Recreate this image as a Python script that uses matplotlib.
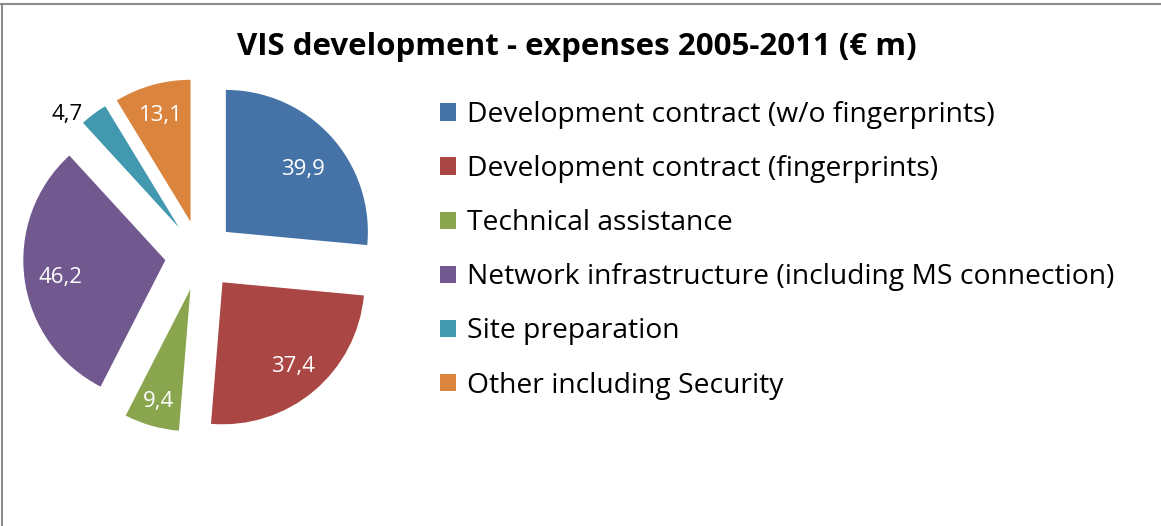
import matplotlib
matplotlib.use("Agg")
import numpy as np
import matplotlib.pyplot as plt
from matplotlib.lines import Line2D

# ----------------------
# data
# ----------------------
categories = [
    "Development contract (w/o fingerprints)",
    "Development contract (fingerprints)",
    "Technical assistance",
    "Network infrastructure (including MS connection)",
    "Site preparation",
    "Other including Security",
]
values = [39.9, 37.4, 9.4, 46.2, 4.7, 13.1]
value_labels = ["39,9", "37,4", "9,4", "46,2", "4,7", "13,1"]

colors = ["#4572A7", "#AA4643", "#89A54E", "#71588F", "#4198AF", "#DB843D"]
label_colors = ["white", "white", "white", "white", "black", "white"]
label_radius = [0.70, 0.77, 0.82, 0.75, 1.12, 0.78]
label_turn = [-3.5, 0, 0, 1.7, 8, 0]  # degrees, small nudges of label angle

plt.rcParams["font.family"] = ["Open Sans", "DejaVu Sans"]

W, H = 1161, 526
fig = plt.figure(figsize=(W / 100, H / 100), dpi=100)
ax = fig.add_axes([0, 0, 1, 1])

R = 142
cx, cy = 200, H - 255.5
# explode is in data units here (pixels)
wedges, _ = ax.pie(values, colors=colors, startangle=90, counterclock=False,
                   explode=[35] * len(values), radius=R, center=(cx, cy),
                   wedgeprops=dict(linewidth=0), frame=True)

# data labels
for w, lab, c, f, t in zip(wedges, value_labels, label_colors, label_radius, label_turn):
    ang = np.deg2rad((w.theta1 + w.theta2) / 2 + t)
    x0, y0 = w.center
    ax.text(x0 + f * R * np.cos(ang), y0 + f * R * np.sin(ang), lab,
            ha="center", va="center", fontsize=16, color=c)

ax.set_xlim(0, W)
ax.set_ylim(0, H)
ax.set_aspect("equal")
ax.axis("off")

fig.text(577 / W, 1 - 47 / H, "VIS development - expenses 2005-2011 (\u20ac m)",
         ha="center", va="center", fontsize=22.5, fontweight="bold", color="black")

fs = 20.3
fs_px = fs * 100 / 72
ax.legend(wedges, categories, loc="upper left",
          bbox_to_anchor=(440 / W, 1 - 101 / H), bbox_transform=fig.transFigure,
          frameon=False, fontsize=fs, borderpad=0, borderaxespad=0,
          handlelength=16 / fs_px, handleheight=16 / fs_px,
          handletextpad=11 / fs_px, labelspacing=(54.3 - fs_px) / fs_px)

# chart border (top and left visible)
fig.add_artist(Line2D([0, 1], [1 - 3.5 / H, 1 - 3.5 / H], transform=fig.transFigure,
                      color="#8c8c8c", linewidth=1.5))
fig.add_artist(Line2D([1.5 / W, 1.5 / W], [0, 1 - 3.5 / H], transform=fig.transFigure,
                      color="#8c8c8c", linewidth=1.5))

fig.savefig("out.png", dpi=100)
